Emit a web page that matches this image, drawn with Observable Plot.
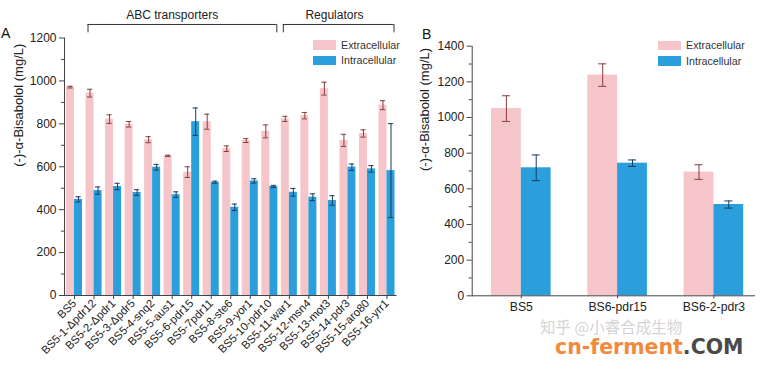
<!DOCTYPE html>
<html><head><meta charset="utf-8">
<script src="https://cdn.jsdelivr.net/npm/d3@7"></script>
<script src="https://cdn.jsdelivr.net/npm/@observablehq/plot@0.6"></script>
<style>
body{margin:0;background:#fff;}
#root{position:relative;width:761px;height:367px;overflow:hidden;font-family:"Liberation Sans",Arial,sans-serif;color:#222;background:#fff;}
.abs{position:absolute;white-space:nowrap;line-height:1;}
.sw{position:absolute;}
</style></head><body><div id="root"></div>
<script>
// ---------- data ----------
const categoriesA = ["BS5","BS5-1-Δpdr12","BS5-2-Δpdr1","BS5-3-Δpdr5","BS5-4-snq2","BS5-5-aus1","BS5-6-pdr15","BS5-7pdr11","BS5-8-ste6","BS5-9-yor1","BS5-10-pdr10","BS5-11-war1","BS5-12-msn4","BS5-13-mot3","BS5-14-pdr3","BS5-15-aro80","BS5-16-yrr1"];
const extracellularA    = [971, 943, 822, 798, 726, 651, 575, 810, 684, 722, 765, 823, 838, 964, 723, 755, 887];
const extracellularErrA = [4,   18,  20,  13,  14,  3,   25,  35,  13,  9,   30,  12,  15,  30,  28,  17,  21];
const intracellularA    = [448, 489, 508, 480, 598, 470, 810, 528, 411, 534, 508, 481, 458, 443, 598, 590, 582];
const intracellularErrA = [12,  17,  15,  13,  13,  13,  64,  5,   15,  10,  5,   18,  16,  22,  15,  15,  219];

const groupLabels = ["ABC transporters", "Regulators"];
const groupFrom   = ["BS5-1-Δpdr12", "BS5-11-war1"];
const groupTo     = ["BS5-10-pdr10", "BS5-16-yrr1"];
const groupAt     = ["BS5-5-aus1", "BS5-13-mot3"];

const categoriesB = ["BS5", "BS6-pdr15", "BS6-2-pdr3"];
const extracellularB    = [1050, 1238, 694];
const extracellularErrB = [72,   63,   41];
const intracellularB    = [718,  744,  512];
const intracellularErrB = [72,   18,   20];

const seriesNames = ["Extracellular", "Intracellular"];
const yTitle = "(-)-α-Bisabolol (mg/L)";
const yTicksA = [0, 200, 400, 600, 800, 1000, 1200];
const yTicksB = [0, 200, 400, 600, 800, 1000, 1200, 1400];

// ---------- style ----------
const pink = "#f5c5c9", blue = "#2a9fdc";
const errPink = "#8a3b3b", errBlue = "#173a5e";
const axisColor = "#444";
const font = '"Liberation Sans", Arial, sans-serif';
const root = document.getElementById("root");
const plain = d => String(d);

function rows(cats, ext, extErr, intr, intErr) {
  return cats.map((c, i) => ({cat: c, ext: ext[i], extErr: extErr[i], intr: intr[i], intErr: intErr[i]}));
}
function caps(data, key, errKey) {
  return data.flatMap(d => [{cat: d.cat, v: d[key] - d[errKey]}, {cat: d.cat, v: d[key] + d[errKey]}]);
}
function minor(ticks) {
  const out = [];
  for (let i = 0; i < ticks.length - 1; i++) out.push((ticks[i] + ticks[i + 1]) / 2);
  return out;
}
function barMarks(data, half, capHalf) {
  const c = half / 2; // error bar offset from band centre
  return [
    Plot.barY(data, {x: "cat", y: "ext", fill: pink, insetRight: half}),
    Plot.barY(data, {x: "cat", y: "intr", fill: blue, insetLeft: half}),
    Plot.ruleX(data, {x: "cat", y1: d => d.ext - d.extErr, y2: d => d.ext + d.extErr, dx: -c, stroke: errPink, strokeWidth: 1}),
    Plot.tickY(caps(data, "ext", "extErr"), {x: "cat", y: "v", stroke: errPink, strokeWidth: 1, insetLeft: half - c - capHalf, insetRight: half + c - capHalf}),
    Plot.ruleX(data, {x: "cat", y1: d => d.intr - d.intErr, y2: d => d.intr + d.intErr, dx: c, stroke: errBlue, strokeWidth: 1}),
    Plot.tickY(caps(data, "intr", "intErr"), {x: "cat", y: "v", stroke: errBlue, strokeWidth: 1, insetLeft: half + c - capHalf, insetRight: half - c - capHalf})
  ];
}
function place(node, left) {
  const d = document.createElement("div");
  d.style.position = "absolute"; d.style.left = left + "px"; d.style.top = "0px";
  d.appendChild(node); root.appendChild(d);
}
function html(text, left, top, style) {
  const d = document.createElement("div");
  d.className = "abs"; d.textContent = text;
  d.style.left = left + "px"; d.style.top = top + "px";
  Object.assign(d.style, style || {});
  root.appendChild(d); return d;
}
function legend(left, top) {
  seriesNames.forEach((name, i) => {
    const s = document.createElement("div");
    s.className = "sw";
    Object.assign(s.style, {left: left + "px", top: (top + i * 15.5) + "px", width: "23px", height: "9.5px", background: i ? blue : pink});
    root.appendChild(s);
    html(name, left + 28, top + i * 15.5 - 0.5, {fontSize: "10.7px", color: "#333"});
  });
}

// ---------- Panel A ----------
const dataA = rows(categoriesA, extracellularA, extracellularErrA, intracellularA, intracellularErrA);
const xRangeA = [66, 394.5], padA = 0.18;
const stepA = (xRangeA[1] - xRangeA[0]) / (categoriesA.length - padA);
const halfA = stepA * (1 - padA) / 2;
const groups = groupLabels.map((g, i) => ({label: g, from: groupFrom[i], to: groupTo[i], at: groupAt[i]}));

const plotA = Plot.plot({
  width: 410, height: 367,
  marginLeft: 64, marginRight: 13.5, marginTop: 37.5, marginBottom: 72,
  style: {fontFamily: font, color: "#222", background: "transparent", overflow: "visible"},
  x: {type: "band", domain: categoriesA, range: xRangeA, paddingInner: padA, paddingOuter: 0, round: false, label: null},
  y: {domain: [0, 1200], label: null},
  marks: [
    ...barMarks(dataA, halfA, 2.6),
    Plot.ruleY([0], {stroke: axisColor}),
    Plot.frame({anchor: "left", stroke: axisColor}),
    Plot.axisY(yTicksA, {tickSize: 5, tickPadding: 3, fontSize: 12, tickFormat: plain, label: null, stroke: axisColor}),
    Plot.axisY(minor(yTicksA), {tickSize: 3, tickFormat: () => "", label: null, stroke: axisColor}),
    Plot.axisX({tickSize: 4, tickPadding: 2, tickRotate: -45, fontSize: 11.3, label: null, stroke: axisColor}),
    Plot.text([yTitle], {frameAnchor: "left", rotate: -90, dx: -46, fontSize: 13}),
    // group brackets
    Plot.ruleY(groups, {x1: "from", x2: "to", y: 1263, insetLeft: 2, insetRight: 1, stroke: "#333"}),
    Plot.ruleX(groups, {x: "from", y1: 1224, y2: 1263, dx: -halfA + 2, stroke: "#333"}),
    Plot.ruleX(groups, {x: "to", y1: 1224, y2: 1263, dx: halfA - 1, stroke: "#333"}),
    Plot.text(groups.slice(0, 1), {x: "at", y: 1305, text: "label", fontSize: 12}),
    Plot.text(groups.slice(1), {x: "at", y: 1305, text: "label", fontSize: 12, dx: 6})
  ]
});
place(plotA, 0);

// ---------- Panel B ----------
const dataB = rows(categoriesB, extracellularB, extracellularErrB, intracellularB, intracellularErrB);
const xRangeB = [91, 343.2], padB = 0.381;
const stepB = (xRangeB[1] - xRangeB[0]) / (categoriesB.length - padB);
const halfB = stepB * (1 - padB) / 2;

const plotB = Plot.plot({
  width: 361, height: 367,
  marginLeft: 71.7, marginRight: 6, marginTop: 45.7, marginBottom: 71.7,
  style: {fontFamily: font, color: "#222", background: "transparent", overflow: "visible"},
  x: {type: "band", domain: categoriesB, range: xRangeB, paddingInner: padB, paddingOuter: 0, round: false, label: null},
  y: {domain: [0, 1400], label: null},
  marks: [
    ...barMarks(dataB, halfB, 4),
    Plot.ruleY([0], {stroke: axisColor}),
    Plot.frame({anchor: "left", stroke: axisColor}),
    Plot.axisY(yTicksB, {tickSize: 5, tickPadding: 3, fontSize: 12, tickFormat: plain, label: null, stroke: axisColor}),
    Plot.axisY(minor(yTicksB), {tickSize: 3, tickFormat: () => "", label: null, stroke: axisColor}),
    Plot.axisX({tickSize: 3, tickPadding: 4, fontSize: 12.2, label: null, stroke: axisColor}),
    Plot.text([yTitle], {frameAnchor: "left", rotate: -90, dx: -47.7, fontSize: 13})
  ]
});
place(plotB, 400);

// ---------- legends, panel letters, watermark ----------
legend(313, 40);
legend(658, 40.5);
html("A", 1, 25.5, {fontSize: "14px", color: "#111"});
html("B", 422, 27, {fontSize: "14px", color: "#111"});
html("知乎 @小睿合成生物", 540, 319, {fontSize: "15.5px", color: "#d4d4d4", fontFamily: '"Noto Sans CJK SC", sans-serif'});
const wm = html("", 555, 337, {fontSize: "20.5px", fontWeight: "bold", fontFamily: '"DejaVu Sans", sans-serif'});
const a = document.createElement("span"); a.textContent = "cn-ferment"; a.style.color = "#f28a3c";
const b = document.createElement("span"); b.textContent = ".COM"; b.style.color = "#4a4a4a";
wm.appendChild(a); wm.appendChild(b);
</script>
</body></html>
